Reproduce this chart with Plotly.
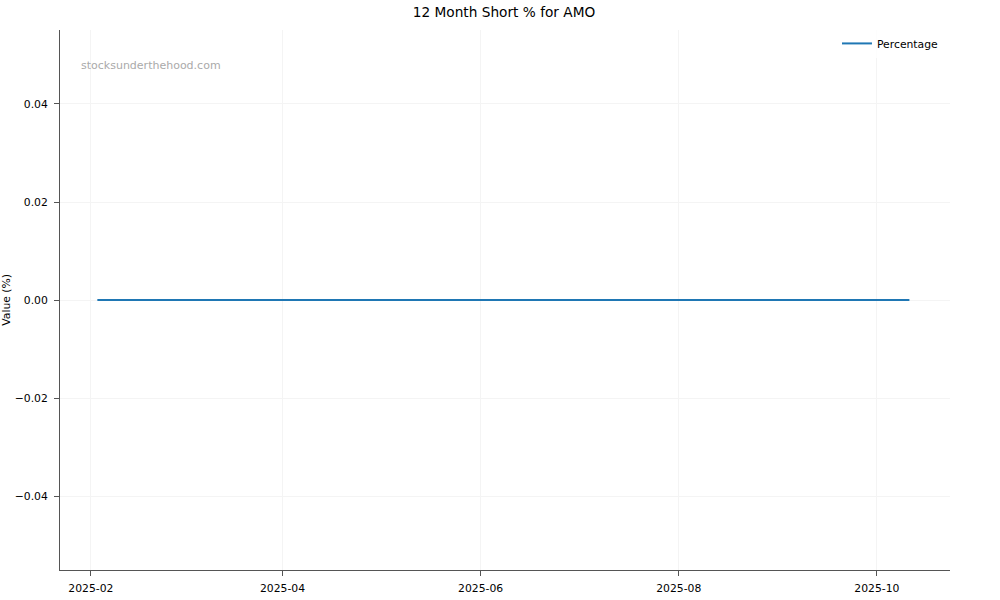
import plotly.graph_objects as go

dates = ["2025-02-03", "2025-02-14", "2025-02-28", "2025-03-14", "2025-03-31",
         "2025-04-15", "2025-04-30", "2025-05-15", "2025-05-30", "2025-06-13",
         "2025-06-30", "2025-07-15", "2025-07-31", "2025-08-15", "2025-08-29",
         "2025-09-15", "2025-09-30", "2025-10-11"]
percentage = [0.0] * len(dates)

x_ticks = ["2025-02-01", "2025-04-01", "2025-06-01", "2025-08-01", "2025-10-01"]
x_tick_labels = ["2025-02", "2025-04", "2025-06", "2025-08", "2025-10"]
y_ticks = [-0.04, -0.02, 0.0, 0.02, 0.04]
y_tick_labels = ["\u22120.04", "\u22120.02", "0.00", "0.02", "0.04"]

font = "DejaVu Sans"

fig = go.Figure()
fig.add_trace(go.Scatter(x=dates, y=percentage, mode="lines", name="Percentage",
                         line=dict(color="#1f77b4", width=2)))

fig.update_layout(
    width=1000, height=600,
    margin=dict(l=60, r=50, t=30, b=30),
    paper_bgcolor="white", plot_bgcolor="white",
    font=dict(family=font, size=10.8, color="#000"),
    title=dict(text="12 Month Short % for AMO", x=0.504, xanchor="center",
               y=0.98, yanchor="middle", font=dict(size=13.7, family=font, color="#000")),
    showlegend=True,
    legend=dict(x=0.873, y=1.002, xanchor="left", yanchor="top",
                bgcolor="rgba(255,255,255,0.8)", font=dict(size=10.8, family=font),
                itemwidth=30),
    xaxis=dict(type="date", range=["2025-01-22 12:00", "2025-10-23 12:00"],
               tickvals=x_ticks, ticktext=x_tick_labels,
               showgrid=True, gridcolor="#f4f4f4", gridwidth=1,
               showline=True, linecolor="#555", linewidth=1,
               ticks="outside", ticklen=5, tickcolor="#555",
               ticklabelstandoff=3, automargin=False,
               zeroline=False, mirror=False),
    yaxis=dict(range=[-0.0551, 0.0551],
               tickvals=y_ticks, ticktext=y_tick_labels,
               showgrid=True, gridcolor="#f4f4f4", gridwidth=1,
               showline=True, linecolor="#555", linewidth=1,
               ticks="outside", ticklen=5, tickcolor="#555",
               ticklabelstandoff=4, automargin=False,
               zeroline=False, mirror=False),
)

fig.add_annotation(text="Value (%)", xref="paper", yref="paper",
                   x=-0.061, y=0.5, textangle=-90, showarrow=False,
                   xanchor="center", yanchor="middle",
                   font=dict(size=10.8, family=font, color="#000"))
fig.add_annotation(text="stocksunderthehood.com", xref="paper", yref="paper",
                   x=0.021, y=0.935, showarrow=False, xanchor="left", yanchor="middle",
                   font=dict(size=11, family=font, color="#aaaaaa"))

fig.write_html("out.html", config={"displayModeBar": False},
               post_script="document.body.style.margin='0';")
